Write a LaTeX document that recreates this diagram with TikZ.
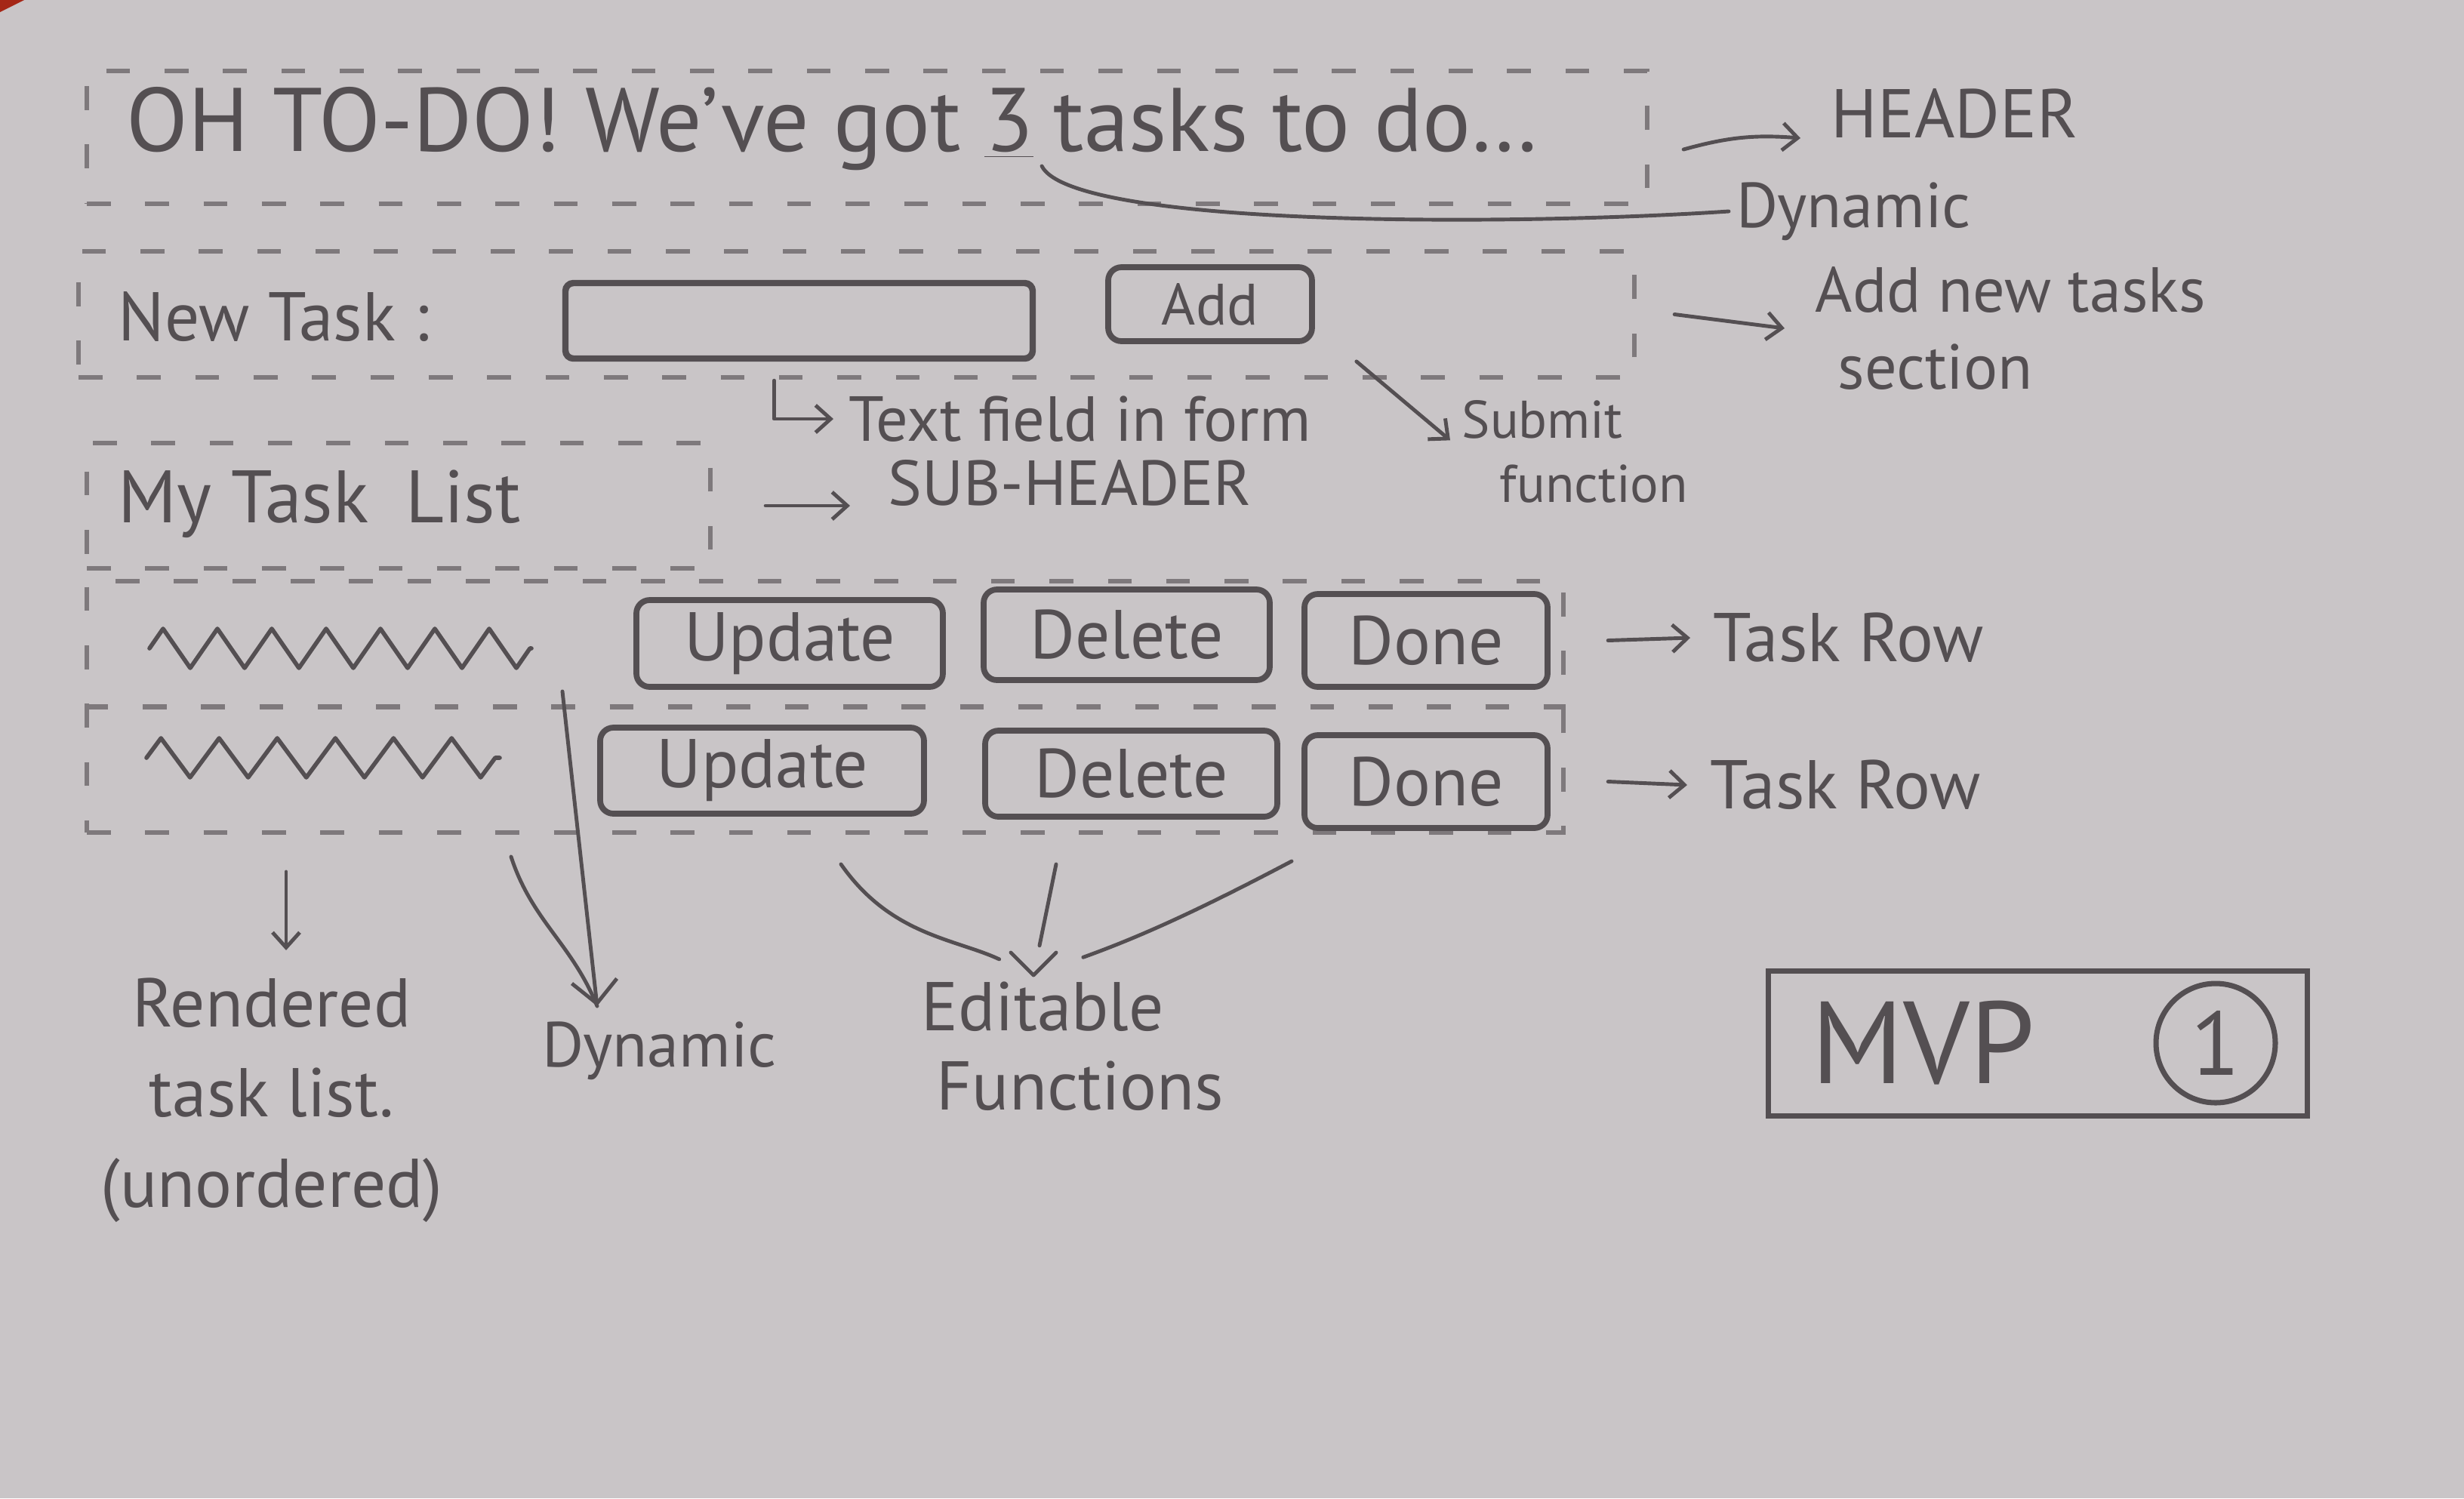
\documentclass[tikz,border=0pt]{standalone}
\usepackage{fontspec}
\setmainfont{PT Sans}
\usetikzlibrary{calc, arrows.meta, positioning, decorations.pathmorphing}
\definecolor{paper}{RGB}{201,197,199}
\definecolor{pencil}{RGB}{84,79,82}
\definecolor{lightpencil}{RGB}{126,121,124}
\definecolor{cover}{RGB}{165,38,22}

\begin{document}
\begin{tikzpicture}[x=1cm, y=-1cm,
    pen/.style={draw=pencil, line width=1.4pt, line cap=round, line join=round},
    arr/.style={pen, -{Straight Barb[length=2mm, width=3.6mm]}},
    bigarr/.style={pen, -{Straight Barb[length=3mm, width=6mm]}},
    sect/.style={draw=lightpencil, line width=1.8pt, dash pattern=on 9pt off 13pt},
    secbox/.style={sect, rectangle, inner sep=0pt},
    btn/.style={draw=pencil, line width=2.2pt, rounded corners=5pt, inner sep=0pt, text=pencil, font=\fontsize{26}{30}\selectfont},
    note/.style={inner sep=0pt, text=pencil, font=\fontsize{24}{29}\selectfont},
    squig/.style={pen, line width=1.6pt, decorate, decoration={zigzag, amplitude=2.6mm}}
]
    % Sheet of paper
    \fill[paper] (0,0) rectangle (32.64,19.85);
    \useasboundingbox (0,0) rectangle (32.64,19.85);
    \fill[cover] (0,0) -- (0.32,0) -- (0,0.16) -- cycle;

    % Header section
    \node[secbox, minimum width=20.67cm, minimum height=1.76cm] (hdrbox) at (11.485,1.82) {};
    \node[note, font=\fontsize{34}{40}\selectfont, anchor=west] (title) at (1.67,1.71) {OH TO-DO! We've got};
    \node[note, font=\fontsize{34}{40}\selectfont, base right=3mm of title] (num) {\underline{3}};
    \node[note, font=\fontsize{34}{40}\selectfont, base right=2.5mm of num] (todo) {tasks to do\ldots};
    \node[note, font=\fontsize{26}{30}\selectfont, anchor=west] (hdrlbl) at (24.25,1.50) {HEADER};
    \node[note, anchor=west] (dyn1) at (23.0,2.8) {Dynamic};
    \draw[arr] ([xshift=4.5mm,yshift=-1.6mm]hdrbox.east) to[bend left=10] ([xshift=-4mm,yshift=-3.3mm]hdrlbl.west);
    \draw[pen] ([xshift=1mm,yshift=-1mm]num.south east) .. controls +(0.4,0.8) and +(-3,0.2) .. ([xshift=-1mm]dyn1.west);

    % New task form
    \node[secbox, minimum width=20.61cm, minimum height=1.67cm] (ntbox) at (11.345,4.165) {};
    \node[note, font=\fontsize{26}{30}\selectfont, anchor=west] (ntlbl) at (1.56,4.2) {New Task :};
    \node[draw=pencil, line width=2.4pt, rounded corners=3pt, minimum width=6.19cm, minimum height=1.0cm] (field) at (10.585,4.25) {};
    \node[btn, minimum width=2.7cm, minimum height=0.98cm, font=\fontsize{22}{26}\selectfont] (addbtn) at (16.03,4.03) {Add};
    \node[note, align=left, anchor=west] (addlbl) at (24.04,4.35) {Add new tasks\\\hspace{3mm}section};
    \node[note, anchor=west] (fieldlbl) at (11.24,5.55) {Text field in form};
    \node[note, font=\fontsize{20}{24}\selectfont, align=left, anchor=north west] (sublbl) at (19.36,5.3) {Submit\\\hspace{5mm}function};
    \draw[arr] ([xshift=5mm]ntbox.east) -- ([xshift=-4mm]addlbl.west);
    \draw[arr] ([xshift=-3.3mm,yshift=-2.5mm]field.south) |- ([xshift=-2mm]fieldlbl.west);
    \draw[arr] ([xshift=5.5mm,yshift=-2.3mm]addbtn.south east) -- ([xshift=-1.5mm,yshift=1.5mm]sublbl.west);

    % Sub-header
    \node[secbox, minimum width=8.26cm, minimum height=1.66cm] (subbox) at (5.28,6.70) {};
    \node[note, font=\fontsize{28}{32}\selectfont, anchor=west] (mylist) at (1.56,6.68) {My Task\enspace List};
    \node[note, anchor=west] (shlbl) at (11.76,6.40) {SUB-HEADER};
    \draw[arr] ([xshift=7mm]subbox.east) -- ($(subbox.east -| shlbl.west)+(-0.5,0)$);

    % Task rows
    \node[secbox, minimum width=19.56cm, minimum height=3.33cm] (listbox) at (10.93,9.365) {};
    \draw[sect] (listbox.west) -- (listbox.east);
    \draw[squig, decoration={segment length=7.2mm}] (1.98,8.59) -- (7.04,8.59);
    \draw[squig, decoration={segment length=7.7mm}] (1.94,10.04) -- (6.62,10.04);
    \node[btn, minimum width=4.06cm, minimum height=1.15cm] (upd1) at (10.46,8.525) {Update};
    \node[btn, minimum width=3.79cm, minimum height=1.2cm] (del1) at (14.925,8.41) {Delete};
    \node[btn, minimum width=3.22cm, minimum height=1.23cm] (done1) at (18.89,8.485) {Done};
    \node[btn, minimum width=4.29cm, minimum height=1.14cm] (upd2) at (10.095,10.21) {Update};
    \node[btn, minimum width=3.87cm, minimum height=1.14cm] (del2) at (14.985,10.25) {Delete};
    \node[btn, minimum width=3.22cm, minimum height=1.23cm] (done2) at (18.89,10.355) {Done};
    \node[note, font=\fontsize{26}{30}\selectfont, anchor=west] (tr1) at (22.69,8.45) {Task Row};
    \node[note, font=\fontsize{26}{30}\selectfont, anchor=west] (tr2) at (22.65,10.40) {Task Row};
    \draw[arr] ($(done1.east -| listbox.east)+(0.56,0)$) -- ([xshift=-3mm]tr1.west);
    \draw[arr] ($(done2.east -| listbox.east)+(0.56,0)$) -- ([xshift=-3mm]tr2.west);

    % Notes under the list
    \coordinate (rendtop) at (3.79,11.55);
    \node[note, font=\fontsize{26}{34}\selectfont, align=center, anchor=north] (rendlbl) at (3.6,12.95) {Rendered\\task list.\\(unordered)};
    \draw[arr, shorten >=3.6mm] (rendtop) -- (rendtop |- rendlbl.north);

    \coordinate (dynA) at (7.45,9.16);
    \coordinate (dynB) at (6.77,11.35);
    \coordinate (dyntip) at (7.91,13.33);
    \node[note, anchor=west] (dyn2) at (7.18,13.92) {Dynamic};
    \draw[bigarr] (dynA) -- (dyntip);
    \draw[pen] (dynB) to[out=-72, in=112] (dyntip);

    \coordinate (edtip) at (13.69,12.92);
    \coordinate (edL) at (11.14,11.45);
    \coordinate (edM) at (13.99,11.45);
    \coordinate (edR) at (17.11,11.41);
    \node[note, font=\fontsize{26}{30}\selectfont, align=left, anchor=north west] (edlbl) at (12.2,13.0) {Editable\\\hspace{2mm}Functions};
    \draw[pen, shorten >=5mm] (edL) to[out=-55, in=155] (edtip);
    \draw[pen, shorten >=4mm] (edM) -- (edtip);
    \draw[pen, shorten >=7mm] (edR) to[bend left=4] (edtip);
    \draw[pen] ([xshift=-3mm,yshift=3mm]edtip) -- (edtip) -- ([xshift=3mm,yshift=3mm]edtip);

    % MVP stamp
    \node[draw=pencil, line width=2pt, minimum width=7.14cm, minimum height=1.92cm] (mvpbox) at (26.99,13.82) {};
    \node[note, font=\fontsize{44}{50}\selectfont, right=6mm of mvpbox.west] (mvptxt) {MVP};
    \node[circle, draw=pencil, line width=2pt, minimum size=1.58cm, inner sep=0pt, text=pencil, font=\fontsize{34}{40}\selectfont, left=4.2mm of mvpbox.east] (mvpnum) {1};
\end{tikzpicture}
\end{document}
